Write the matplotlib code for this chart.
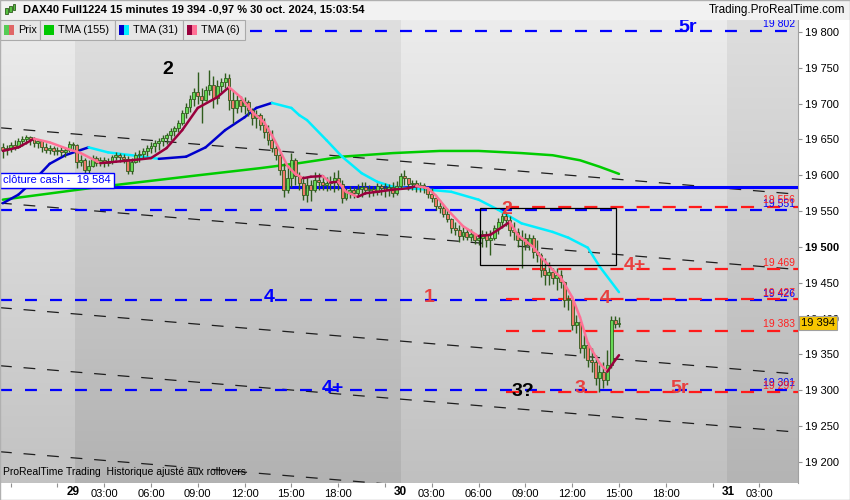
import matplotlib
matplotlib.use("Agg")
import matplotlib.pyplot as plt
from matplotlib.collections import LineCollection
from matplotlib.patches import Rectangle
import matplotlib.transforms as mtransforms
import numpy as np

plt.rcParams['font.family'] = ['Liberation Sans', 'DejaVu Sans']
plt.rcParams['lines.scale_dashes'] = False

# ---------------- donnees ----------------
open_first = 19640
closes = [19635, 19638, 19642, 19639, 19648, 19651, 19653, 19651, 19645, 19648, 19639, 19635, 19638, 19634, 19635, 19632, 19635, 19644,
          19642, 19619, 19621, 19607, 19613, 19624, 19617, 19621, 19617, 19620, 19626, 19628, 19626, 19623, 19606, 19619, 19628, 19630,
          19634, 19638, 19641, 19645, 19648, 19652, 19656, 19662, 19666, 19673, 19687, 19695, 19707, 19716, 19711, 19705, 19719, 19726,
          19708, 19725, 19730, 19736, 19705, 19694, 19705, 19697, 19702, 19691, 19680, 19684, 19670, 19660, 19649, 19638, 19628, 19607,
          19580, 19596, 19621, 19599, 19589, 19572, 19586, 19580, 19593, 19591, 19586, 19589, 19591, 19596, 19588, 19568, 19577, 19580,
          19575, 19581, 19584, 19580, 19581, 19577, 19585, 19582, 19580, 19584, 19575, 19585, 19599, 19596, 19588, 19589, 19585, 19586,
          19582, 19574, 19568, 19557, 19554, 19546, 19539, 19526, 19524, 19515, 19521, 19514, 19518, 19510, 19513, 19518, 19510, 19513,
          19526, 19535, 19543, 19538, 19524, 19521, 19510, 19513, 19503, 19513, 19493, 19489, 19468, 19461, 19465, 19457, 19461, 19451,
          19426, 19426, 19391, 19395, 19359, 19363, 19342, 19340, 19317, 19326, 19314, 19335, 19398, 19393, 19394]
highs = [19645, 19642, 19646, 19649, 19652, 19655, 19656, 19655, 19653, 19651, 19649, 19645, 19642, 19641, 19639, 19641, 19638, 19648,
         19646, 19644, 19628, 19624, 19621, 19628, 19627, 19626, 19626, 19624, 19628, 19632, 19631, 19630, 19627, 19624, 19632, 19635,
         19638, 19642, 19646, 19649, 19652, 19656, 19659, 19666, 19669, 19677, 19691, 19701, 19712, 19722, 19744, 19722, 19725, 19747,
         19739, 19733, 19736, 19743, 19741, 19719, 19712, 19711, 19709, 19705, 19694, 19691, 19687, 19680, 19670, 19663, 19642, 19632,
         19617, 19614, 19631, 19624, 19605, 19599, 19598, 19593, 19605, 19603, 19600, 19598, 19599, 19605, 19607, 19593, 19582, 19585,
         19584, 19588, 19591, 19591, 19586, 19585, 19589, 19588, 19589, 19588, 19591, 19592, 19603, 19607, 19596, 19593, 19593, 19591,
         19589, 19585, 19582, 19572, 19566, 19558, 19552, 19540, 19535, 19531, 19529, 19526, 19525, 19520, 19518, 19524, 19522, 19524,
         19531, 19540, 19547, 19549, 19543, 19535, 19526, 19524, 19520, 19518, 19517, 19510, 19492, 19485, 19479, 19471, 19471, 19468,
         19453, 19433, 19426, 19405, 19398, 19377, 19367, 19359, 19349, 19335, 19340, 19356, 19404, 19404, 19402]
lows = [19624, 19628, 19632, 19635, 19638, 19641, 19644, 19642, 19639, 19638, 19632, 19631, 19630, 19628, 19628, 19627, 19626, 19632,
        19635, 19610, 19613, 19603, 19602, 19612, 19613, 19613, 19612, 19613, 19616, 19621, 19619, 19617, 19602, 19602, 19617, 19619,
        19624, 19627, 19631, 19632, 19635, 19641, 19644, 19649, 19655, 19660, 19670, 19680, 19688, 19697, 19700, 19673, 19704, 19712,
        19694, 19700, 19716, 19722, 19691, 19673, 19687, 19688, 19686, 19683, 19670, 19666, 19663, 19652, 19642, 19632, 19621, 19600,
        19570, 19575, 19584, 19586, 19580, 19566, 19563, 19564, 19577, 19580, 19580, 19578, 19580, 19577, 19580, 19561, 19566, 19568,
        19568, 19571, 19570, 19574, 19570, 19571, 19572, 19572, 19570, 19571, 19570, 19572, 19582, 19586, 19580, 19580, 19577, 19577,
        19575, 19568, 19563, 19552, 19547, 19542, 19535, 19520, 19517, 19507, 19510, 19510, 19508, 19504, 19503, 19500, 19500, 19489,
        19510, 19518, 19526, 19529, 19515, 19510, 19500, 19471, 19496, 19496, 19485, 19479, 19458, 19447, 19447, 19448, 19440, 19443,
        19416, 19412, 19384, 19380, 19352, 19345, 19333, 19326, 19307, 19297, 19303, 19307, 19331, 19387, 19388]

# moyennes mobiles (indice de barre -> valeur)
tma6_bars = [0, 4, 8, 12, 16, 20, 25, 29, 33, 38, 42, 46, 50, 55, 58, 61, 64, 67, 69, 71,
             73, 75, 77, 79, 82, 84, 86, 88, 91, 93, 96, 100, 104, 106, 109, 111, 114, 118, 122, 125,
             127, 130, 132, 136, 138, 141, 143, 146, 148, 150, 153, 155, 157, 158]
tma6_vals = [19634, 19639, 19651, 19646, 19638, 19631, 19617, 19619, 19621, 19624, 19638, 19663, 19694, 19709, 19723, 19709, 19688, 19674, 19656, 19635,
             19613, 19602, 19596, 19598, 19599, 19590, 19591, 19577, 19570, 19575, 19577, 19580, 19582, 19585, 19582, 19572, 19552, 19529, 19515, 19517,
             19524, 19535, 19517, 19500, 19486, 19468, 19458, 19430, 19402, 19366, 19338, 19326, 19342, 19349]
tma31_bars = [0, 4, 8, 12, 16, 22, 27, 36, 40, 47, 52, 57, 62, 65, 69, 74, 76, 78, 83, 87,
              92, 96, 100, 104, 109, 115, 122, 127, 133, 141, 145, 150, 153, 158]
tma31_vals = [19561, 19573, 19593, 19616, 19628, 19639, 19632, 19626, 19623, 19626, 19639, 19663, 19681, 19694, 19701, 19694, 19684, 19677, 19649, 19626,
              19603, 19591, 19584, 19582, 19580, 19577, 19566, 19552, 19533, 19521, 19513, 19499, 19473, 19437]
tma155_bars = [0, 25, 50, 66, 76, 87, 100, 112, 122, 133, 141, 148, 153, 158]
tma155_vals = [19566, 19584, 19600, 19610, 19617, 19626, 19631, 19634, 19634, 19631, 19628, 19621, 19612, 19602]

# niveaux horizontaux
blue_levels = [19802, 19551, 19426, 19301]
blue_labels = ["19 802", "19 551", "19 426", "19 301"]
red_levels = [19556, 19469, 19427, 19383, 19297]
red_labels = ["19 556", "19 469", "19 427", "19 383", "19 297"]
cloture_cash = 19584
last_price = 19394

# droites de tendance : prix au 28/10 17:30 et au 31/10 03:00
trend_start = [19666, 19561, 19415, 19334, 19214]
trend_end = [19578, 19473, 19327, 19246, 19126]


def pos(day, hour, minute=0):
    # axe en heures de cotation : seances 01:00-22:00, nuits supprimees
    return (day - 29) * 21 + (hour - 1) + minute / 60


bar_times = [(28, h, m) for h in range(17, 22) for m in (0, 15, 30, 45) if (h, m) >= (17, 30)]
bar_times += [(29, h, m) for h in range(1, 22) for m in (0, 15, 30, 45)]
bar_times += [(30, h, m) for h in range(1, 16) for m in (0, 15, 30, 45) if (h, m) <= (15, 0)]
x = np.array([pos(*t) for t in bar_times])

opens = [open_first] + closes[:-1]

# ---------------- figure ----------------
W, H = 850, 500
fig = plt.figure(figsize=(8.5, 5), dpi=100)
fig.patch.set_facecolor('white')
ax = fig.add_axes([0, 17 / H, 798 / W, 463 / H])

px_per_h = 15.6
xmin, xmax = -73 / px_per_h, (798 - 73) / px_per_h
ymin, ymax = 19170.7, 19816.7
ax.set_xlim(xmin, xmax)
ax.set_ylim(ymin, ymax)

# fond : bandes par jour avec degrade vertical
b29, b30, b31 = pos(29, 1) + 0.1, pos(30, 1) + 0.05, pos(31, 1) - 0.05
bands = [(xmin, b29, 236, 194), (b29, b30, 223, 178), (b30, b31, 236, 192), (b31, xmax, 222, 180)]
for x0, x1, top, bot in bands:
    g = np.linspace(top, bot, 200) / 255.0
    img = np.repeat(g[:, None, None], 3, axis=2)
    ax.imshow(img, extent=[x0, x1, ymin, ymax], aspect='auto', origin='upper', zorder=0, interpolation='bilinear')

# droites de tendance noires
ta, tb = pos(28, 17, 30), pos(31, 3)
for p0, p1 in zip(trend_start, trend_end):
    slope = (p1 - p0) / (tb - ta)
    ax.plot([xmin, xmax], [p0 + slope * (xmin - ta), p0 + slope * (xmax - ta)],
            color='#1e1e1e', lw=0.9, dashes=(8.5, 8.5), zorder=2)

# niveaux bleus et rouges
for lev in blue_levels:
    ax.plot([xmin, xmax], [lev, lev], color='#0000ff', lw=1.6, dashes=(8.6, 9.4), zorder=3)
red_x0 = pos(30, 7, 45)
for lev in red_levels:
    ax.plot([red_x0, xmax], [lev, lev], color='#ff1a1a', lw=1.6, dashes=(9.4, 9.4), zorder=3)

# cloture cash
ax.plot([xmin, xmax], [cloture_cash - 2, cloture_cash - 2], color='#ff0000', lw=0.8, zorder=3)
ax.plot([xmin, xmax], [cloture_cash, cloture_cash], color='#0000ff', lw=2.2, zorder=3)
ax.text(xmin + 0.2, cloture_cash + 2, "clôture cash -  19 584", color='#0000ff', fontsize=8,
        va='bottom', ha='left', zorder=9,
        bbox=dict(boxstyle='square,pad=0.25', facecolor='white', edgecolor='#0000ff', linewidth=1.0))

# moyennes mobiles
def colored_line(bars, vals, up, down, lw, z):
    xs = x[bars]
    pts = np.column_stack([xs, vals])
    segs = np.stack([pts[:-1], pts[1:]], axis=1)
    cols = [up if vals[i + 1] >= vals[i] else down for i in range(len(vals) - 1)]
    lc = LineCollection(segs, colors=cols, linewidths=lw, capstyle='round', joinstyle='round', zorder=z)
    ax.add_collection(lc)

ax.plot(x[tma155_bars], tma155_vals, color='#00cc00', lw=1.8, zorder=4, solid_capstyle='round')
colored_line(tma31_bars, tma31_vals, '#0000cc', '#00eeff', 1.8, 4)

# bougies
edge = '#2f5c1d'
body_lo = [min(o, c) for o, c in zip(opens, closes)]
body_h = [max(abs(c - o), 0.8) for o, c in zip(opens, closes)]
fills = ['#66d955' if c >= o else '#f07a6a' for o, c in zip(opens, closes)]
ax.vlines(x, lows, highs, color=edge, lw=1.0, zorder=5)
ax.bar(x, body_h, bottom=body_lo, width=0.19, color=fills, edgecolor=edge, linewidth=0.6, zorder=6)

colored_line(tma6_bars, tma6_vals, '#99003d', '#ff7095', 1.8, 7)

# rectangle noir
r0, r1 = pos(30, 6, 5), pos(30, 14, 50)
ax.add_patch(Rectangle((r0, 19475), r1 - r0, 79, fill=False, edgecolor='black', lw=0.9, zorder=8))

# etiquettes d'analyse
red_t = '#e8403f'
notes = [("2", pos(29, 7, 5), 19747, 'black'), ("2", pos(30, 7, 50), 19552, red_t),
         ("4+", pos(30, 16, 0), 19474, red_t), ("4", pos(30, 14, 5), 19428, red_t),
         ("1", pos(30, 2, 50), 19429, red_t), ("4", pos(29, 13, 35), 19430, '#0000ff'),
         ("4+", pos(29, 17, 40), 19303, '#0000ff'), ("3?", pos(30, 8, 50), 19299, 'black'),
         ("3", pos(30, 12, 30), 19302, red_t), ("5r", pos(30, 18, 55), 19302, red_t),
         ("5r", pos(30, 19, 25), 19806, '#0000ff')]
for txt, xx, yy, col in notes:
    ax.text(xx, yy, txt, color=col, fontsize=14, fontweight='bold', ha='center', va='center', zorder=9)

# etiquettes des niveaux a droite
for lev, lab in zip(blue_levels, blue_labels):
    ax.text(xmax - 0.2, lev + 2, lab, color='#0000ff', fontsize=7.5, ha='right', va='bottom', zorder=9)
for lev, lab in zip(red_levels, red_labels):
    ax.text(xmax - 0.2, lev + 2, lab, color='#ff2020', fontsize=7.5, ha='right', va='bottom', zorder=9)

# axes
for s in ['top', 'left', 'bottom']:
    ax.spines[s].set_visible(False)
ax.spines['right'].set_color('#a0a0a0')

yt = list(range(19200, 19801, 50))
ax.yaxis.tick_right()
ax.set_yticks(yt)
ax.set_yticklabels([f"{v:,}".replace(",", " ") for v in yt], fontsize=8)
for lab, v in zip(ax.get_yticklabels(), yt):
    if v == 19500:
        lab.set_fontweight('bold')
ax.tick_params(axis='y', direction='out', length=3, pad=2, color='#909090')

xt, xl = [], []
for d in (28, 29, 30, 31):
    for h in range(3, 22, 3):
        p = pos(d, h)
        if xmin < p < xmax:
            xt.append(p)
            xl.append("" if (d == 28 or h == 21) else f"{h:02d}:00")
ax.set_xticks(xt)
ax.set_xticklabels(xl, fontsize=8)
ax.tick_params(axis='x', direction='out', length=3, pad=1.5, color='#909090')
trans = mtransforms.blended_transform_factory(ax.transData, ax.transAxes)
for d in (29, 30, 31):
    ax.text(pos(d, 1), -0.0075, str(d), transform=trans, fontsize=8.5, fontweight='bold',
            ha='center', va='top', clip_on=False)

# prix courant
ax.text(1.004, last_price, "19 394", transform=mtransforms.blended_transform_factory(ax.transAxes, ax.transData),
        fontsize=8, ha='left', va='center', zorder=12, clip_on=False,
        bbox=dict(boxstyle='square,pad=0.2', facecolor='#f7c600', edgecolor='#a0a0a0', linewidth=0.8))

ax.text(0.004, 0.012, "ProRealTime Trading  Historique ajusté aux rollovers", transform=ax.transAxes,
        fontsize=7.5, ha='left', va='bottom', zorder=9)

# en-tete et legende (coordonnees pixels)
def px_rect(x0, y0, w, h, **kw):
    fig.patches.append(Rectangle((x0 / W, 1 - (y0 + h) / H), w / W, h / H, transform=fig.transFigure, **kw))

px_rect(0, 0, W, 20, facecolor='#f2f2f2', edgecolor='none', zorder=1)
for i, xx in enumerate([5, 9, 13]):
    px_rect(xx, 8 - 2 * i, 2.5, 6, facecolor='#55c040', edgecolor='#2f5c1d', lw=0.6, zorder=2)
fig.text(23 / W, 1 - 10 / H, "DAX40 Full1224 15 minutes 19 394 -0,97 % 30 oct. 2024, 15:03:54",
         fontsize=8, fontweight='bold', va='center', ha='left')
fig.text(845 / W, 1 - 10 / H, "Trading.ProRealTime.com", fontsize=8.5, va='center', ha='right')

legend_boxes = [(0, 40, "Prix", ['#55cc55', '#e06666']), (40, 75, "TMA (155)", ['#00c800']),
                (115, 68, "TMA (31)", ['#0000cc', '#00eeff']), (183, 62, "TMA (6)", ['#99003d', '#ff7095'])]
for bx, bw, lab, cols in legend_boxes:
    px_rect(bx, 20, bw, 20, facecolor='#e6e6e6', edgecolor='#aaaaaa', lw=0.8, zorder=3)
    sw = 10 / len(cols)
    for j, c in enumerate(cols):
        px_rect(bx + 4 + j * sw, 25, sw, 10, facecolor=c, edgecolor='none', zorder=4)
    fig.text((bx + 18) / W, 1 - 30 / H, lab, fontsize=7.8, va='center', ha='left', zorder=5)

fig.patches.append(Rectangle((0, 0), 1, 1, transform=fig.transFigure, fill=False,
                             edgecolor='#b0b0b0', lw=1.0, zorder=10))

fig.savefig("out.png", dpi=100)
